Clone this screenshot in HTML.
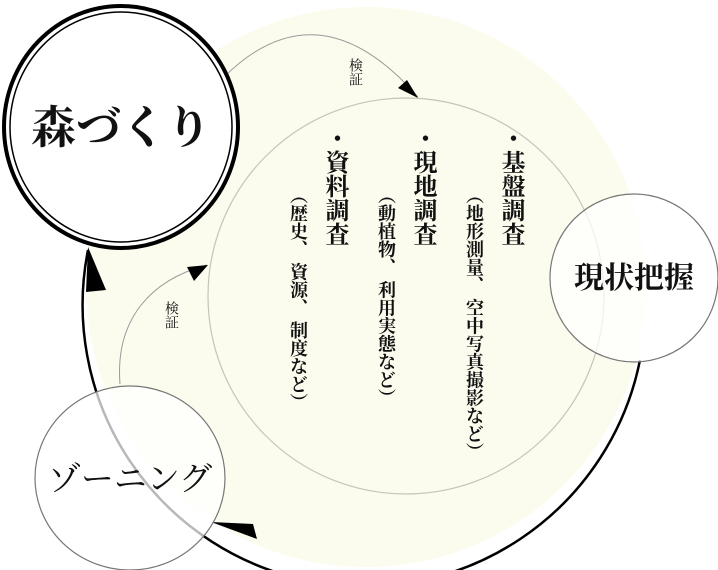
<!DOCTYPE html>
<html><head><meta charset="utf-8"><style>
html,body{margin:0;padding:0;background:#fff;}
#c{position:relative;width:718px;height:570px;overflow:hidden;font-family:"Liberation Serif","Noto Serif CJK SC",serif;}
svg{position:absolute;left:0;top:0;}
.v{position:absolute;writing-mode:vertical-rl;font-weight:bold;color:#111;white-space:nowrap;}
.h{position:absolute;white-space:nowrap;color:#111;text-align:center;}
</style></head><body><div id="c">
<svg width="718" height="570" viewBox="0 0 718 570">
<circle cx="366" cy="287" r="280" fill="#fbfbee"/>
<circle cx="406" cy="296" r="198" fill="none" stroke="#c4c4b8" stroke-width="1.2"/>
<path d="M640,360 A280 280 0 0 1 88,250" fill="none" stroke="#000" stroke-width="2.5"/>
<polygon points="88,247 86,292 106,290" fill="#000"/>
<polygon points="211,522 253,524 257,539" fill="#000"/>
<path d="M225,76 Q319,-16 418,97" fill="none" stroke="#999" stroke-width="1"/>
<polygon points="418,98 398,88 407,80" fill="#000"/>
<path d="M120,384 C115,320 150,280 207,265" fill="none" stroke="#999" stroke-width="1"/>
<polygon points="208,265 187,267 194,281" fill="#000"/>
<ellipse cx="130" cy="478" rx="95" ry="92" fill="rgba(255,255,255,0.72)" stroke="#777" stroke-width="1.2"/>
<circle cx="634" cy="278" r="84" fill="rgba(255,255,255,0.72)" stroke="#777" stroke-width="1.2"/>
<ellipse cx="121" cy="127" rx="117" ry="121" fill="#fff" stroke="#000" stroke-width="4"/>
<ellipse cx="121" cy="127" rx="111" ry="115" fill="none" stroke="#000" stroke-width="1.5"/>
</svg>
<div class="h" style="left:0;width:242px;top:100px;font-size:45px;line-height:56px;font-weight:bold;">森づくり</div>
<div class="h" style="left:550px;width:168px;top:262px;font-size:30px;line-height:34px;font-weight:bold;">現状把握</div>
<div class="h" style="left:35px;width:190px;top:460px;font-size:33px;line-height:40px;">ゾーニング</div>
<div class="v" style="left:347px;top:58px;font-size:14px;line-height:15px;font-weight:normal;">検証</div>
<div class="v" style="left:163px;top:301px;font-size:14px;line-height:15px;font-weight:normal;">検証</div>
<div class="v" style="left:498px;top:126px;font-size:24px;line-height:24px;">・基盤調査</div>
<div class="v" style="left:410px;top:126px;font-size:24px;line-height:24px;">・現地調査</div>
<div class="v" style="left:322px;top:126px;font-size:24px;line-height:24px;">・資料調査</div>
<div class="v" style="left:465px;top:186px;font-size:18px;line-height:18px;">（地形測量、 空中写真撮影など）</div>
<div class="v" style="left:377px;top:186px;font-size:18px;line-height:18px;">（動植物、 利用実態など）</div>
<div class="v" style="left:289px;top:186px;font-size:18px;line-height:18px;">（歴史、 資源、 制度など）</div>
</div></body></html>
